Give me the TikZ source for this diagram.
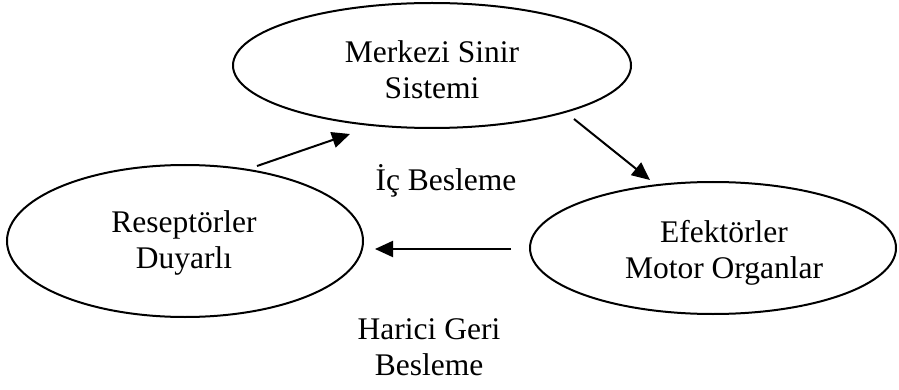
\documentclass[tikz,border=0pt]{standalone}
\usepackage{fontspec}
\setmainfont{Liberation Serif}
\usetikzlibrary{arrows.meta,shapes.geometric}
\begin{document}
\begin{tikzpicture}[x=1pt,y=-1pt,
  ell/.style={draw,ellipse,line width=2pt,inner sep=0pt,outer sep=0pt},
  txt/.style={font=\fontsize{31.5}{36}\selectfont,align=center,inner sep=0pt,anchor=base},
  arr/.style={line width=2pt,-{Triangle[length=18pt,width=16pt]}}]
\useasboundingbox (0,0) rectangle (899,390);
\node[ell,minimum width=398pt,minimum height=125pt] (cns) at (432,65.5) {};
\node[ell,minimum width=356pt,minimum height=152pt] (rec) at (185,241) {};
\node[ell,minimum width=366pt,minimum height=132pt] (eff) at (713,248) {};
\node[txt] (cnst) at (432,99) {Merkezi Sinir\\Sistemi};
\node[txt] (rect) at (184,268) {Reseptörler\\Duyarlı};
\node[txt] (efft) at (724,278) {Efektörler\\Motor Organlar};
\node[txt] (ic) at (446,191) {İç Besleme};
\node[txt] (har) at (429,375) {Harici Geri\\Besleme};
\draw[arr] ([xshift=72pt,yshift=-1pt]rec.north) -- ([xshift=-82pt,yshift=-6pt]cns.south);
\draw[arr] ([xshift=142pt,yshift=9pt]cns.south) -- ([xshift=-63pt,yshift=2pt]eff.north);
\draw[arr] ([xshift=-19pt,yshift=-1pt]eff.west) -- ([xshift=12pt,yshift=-8pt]rec.east);
\end{tikzpicture}
\end{document}
